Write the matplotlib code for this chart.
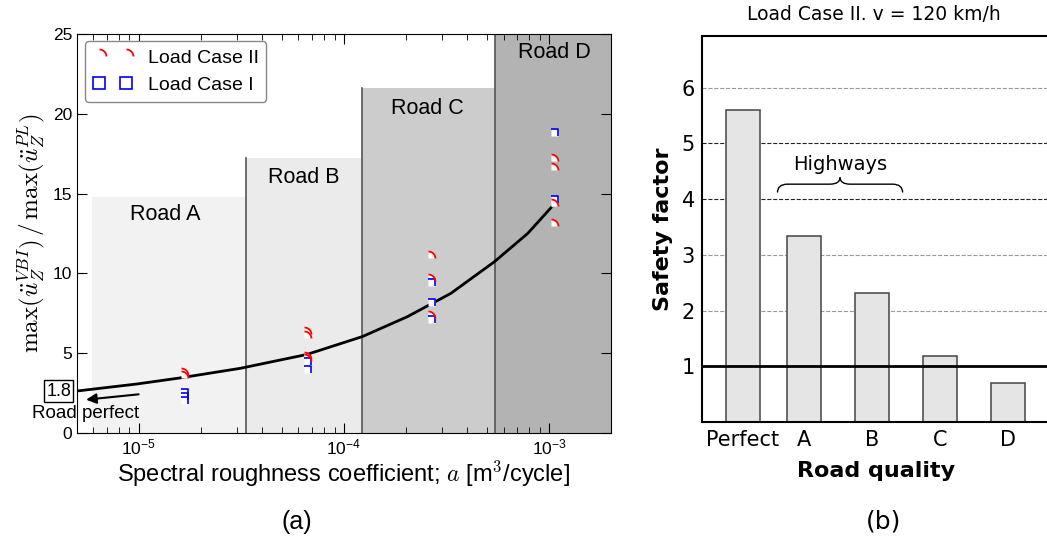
import numpy as np
import matplotlib
matplotlib.use('Agg')
import matplotlib.pyplot as plt
from matplotlib.path import Path
from matplotlib.patches import PathPatch
from matplotlib.lines import Line2D

plt.rcParams['font.family'] = ['Liberation Sans', 'DejaVu Sans']
plt.rcParams['mathtext.fontset'] = 'cm'

# ---- (a) data ----
road_names = ['Road A', 'Road B', 'Road C', 'Road D']
road_edges = [5.9e-6, 3.33e-5, 1.22e-4, 5.42e-4, 2.0e-3]
road_tops = [14.8, 17.25, 21.6, 25.0]
road_colors = ['#f2f2f2', '#ebebeb', '#cccccc', '#b3b3b3']

a_roads = [1.6e-5, 6.4e-5, 2.56e-4, 1.024e-3]
case2_vals = [[3.63, 3.45], [6.2, 5.95, 4.64, 4.5],
              [10.96, 9.52, 7.21], [17.04, 16.48, 14.22, 12.97]]
case1_vals = [[2.32, 2.07, 1.82], [4.26, 3.76],
              [9.2, 7.96, 6.9], [18.6, 14.4]]

fit_a = [5.0e-6, 9.8e-6, 1.59e-5, 3.12e-5, 6.6e-5, 1.23e-4, 2.04e-4,
         3.32e-4, 5.41e-4, 7.87e-4, 1.02e-3]
fit_y = [2.63, 3.07, 3.45, 4.05, 4.92, 6.04, 7.29, 8.75, 10.73, 12.51, 14.11]
perfect_val = 1.8

# ---- (b) data ----
quality = ['Perfect', 'A', 'B', 'C', 'D']
safety = [5.6, 3.34, 2.31, 1.18, 0.70]

# marker shapes: only the upper right quarter of circle / square shows
th = np.linspace(np.pi / 2, 0, 16)
arc = Path(np.column_stack([np.cos(th), np.sin(th)]))
wedge = Path(np.vstack([[0, 0], np.column_stack([np.cos(th), np.sin(th)]), [0, 0]]))
sq_edge = Path([(0, 1), (1, 1), (1, 0)])
sq_fill = Path([(0, 0), (0, 1), (1, 1), (1, 0), (0, 0)])

fig = plt.figure(figsize=(10.47, 5.38), dpi=100)

ax = fig.add_axes([0.0735, 0.1952, 0.510, 0.7416])
ax.set_xscale('log')
for i in range(4):
    ax.fill_between([road_edges[i], road_edges[i + 1]], 0, road_tops[i],
                    color=road_colors[i], lw=0, zorder=0)
    if i > 0:
        ax.plot([road_edges[i]] * 2, [0, road_tops[i]], color='#555555', lw=1.2, zorder=1)

ax.plot(fit_a, fit_y, color='black', lw=2, zorder=2, solid_joinstyle='round')

for i, a in enumerate(a_roads):
    for v in case1_vals[i]:
        ax.plot(a, v, ls='none', marker=sq_fill, ms=10, mfc='white', mec='none', zorder=3)
        ax.plot(a, v, ls='none', marker=sq_edge, ms=10, mfc='none', mec='blue', mew=1.2, zorder=4)
    for v in case2_vals[i]:
        ax.plot(a, v, ls='none', marker=wedge, ms=10, mfc='white', mec='none', zorder=3)
        ax.plot(a, v, ls='none', marker=arc, ms=10, mfc='none', mec='red', mew=1.3, zorder=4)

label_pos = [(1.34e-5, 13.66), (6.34e-5, 15.98), (2.56e-4, 20.36), (1.06e-3, 23.87)]
for name, (x, y) in zip(road_names, label_pos):
    ax.text(x, y, name, ha='center', va='center', fontsize=15.5)

ax.set_xlim(5e-6, 2e-3)
ax.set_ylim(0, 25)
ax.set_yticks([0, 5, 10, 15, 20, 25])
ax.tick_params(which='both', direction='in', top=True, right=True, labelsize=12.5)
ax.tick_params(which='major', length=7)
ax.tick_params(which='minor', length=4)
ax.set_xlabel('Spectral roughness coefficient; $a$ [m$^3$/cycle]', fontsize=17, labelpad=1)
ax.set_ylabel(r'$\max(\ddot{u}_Z^{VBI})\,/\,\max(\ddot{u}_Z^{PL})$', fontsize=18, labelpad=4)

handles = [Line2D([], [], ls='none', marker=arc, mfc='none', mec='red', mew=1.3, ms=10),
           Line2D([], [], ls='none', marker='s', mfc='none', mec='blue', mew=1.2, ms=9)]
leg = ax.legend(handles, ['Load Case II', 'Load Case I'], numpoints=2, loc='upper left',
                bbox_to_anchor=(0.016, 0.982), borderaxespad=0, fontsize=14,
                handlelength=2.0, fancybox=True, edgecolor='#888888', framealpha=1)
leg.set_zorder(6)

ax.text(4.07e-6, 2.63, f'{perfect_val}', ha='center', va='center', fontsize=13, clip_on=False,
        bbox=dict(boxstyle='square,pad=0.12', fc='white', ec='black', lw=1))
ax.annotate('', xy=(5.37e-6, 2.07), xytext=(1.03e-5, 2.44), annotation_clip=False,
            arrowprops=dict(arrowstyle='-|>', color='black', lw=1.5, mutation_scale=15))
ax.text(5.5e-6, 1.19, 'Road perfect', ha='center', va='center', fontsize=13.5, clip_on=False)

# ---- (b) ----
dv = 'DejaVu Sans'
ax2 = fig.add_axes([0.6705, 0.2156, 0.339, 0.7175])
bar_pos = [0, 0.9, 1.9, 2.9, 3.9]
ax2.bar(bar_pos, safety, width=0.5, color='#e5e5e5', edgecolor='#444444', linewidth=1.1, zorder=2)
for y in [2, 3, 6]:
    ax2.axhline(y, color='#999999', ls='--', lw=0.8, zorder=0)
for y in [4, 5]:
    ax2.axhline(y, color='#222222', ls='--', lw=0.8, zorder=0)
ax2.axhline(1, color='black', lw=2, zorder=3)
ax2.set_xlim(-0.6, 4.62)
ax2.set_ylim(0, 6.93)
ax2.set_yticks(range(1, 7))
ax2.set_xticks(bar_pos)
ax2.set_xticklabels(quality)
ax2.tick_params(length=0, labelsize=15)
ax2.tick_params(axis='x', pad=6)
ax2.tick_params(axis='y', pad=5)
for lab in ax2.get_xticklabels() + ax2.get_yticklabels():
    lab.set_fontfamily(dv)
for sp in ax2.spines.values():
    sp.set_linewidth(1.5)
ax2.set_xlabel('Road quality', fontsize=16, fontweight='bold', family=dv)
ax2.xaxis.set_label_coords(0.49, -0.1)
ax2.set_ylabel('Safety factor', fontsize=16, fontweight='bold', family=dv, labelpad=6)

# brace over A and B
xl, xr, xt = 0.51, 2.35, 1.43
yl, ym, yt = 4.12, 4.27, 4.39
r = 0.15
verts = [(xl, yl), (xl, ym), (xl + r, ym), (xt - r, ym), (xt, ym), (xt, yt),
         (xt, ym), (xt + r, ym), (xr - r, ym), (xr, ym), (xr, yl)]
codes = [Path.MOVETO, Path.CURVE3, Path.CURVE3, Path.LINETO, Path.CURVE3, Path.CURVE3,
         Path.CURVE3, Path.CURVE3, Path.LINETO, Path.CURVE3, Path.CURVE3]
ax2.add_patch(PathPatch(Path(verts, codes), fc='none', ec='black', lw=1, zorder=4))
ax2.text(xt, 4.62, 'Highways', ha='center', va='center', fontsize=14, family=dv)

fig.text(874 / 1047, 1 - 14 / 538, 'Load Case II. v = 120 km/h', ha='center', va='center',
         fontsize=13.5, family=dv)
fig.text(297 / 1047, 1 - 522 / 538, '(a)', ha='center', va='center', fontsize=18)
fig.text(884 / 1047, 1 - 522 / 538, '(b)', ha='center', va='center', fontsize=18, family=dv)

fig.savefig('out.png', dpi=100)
